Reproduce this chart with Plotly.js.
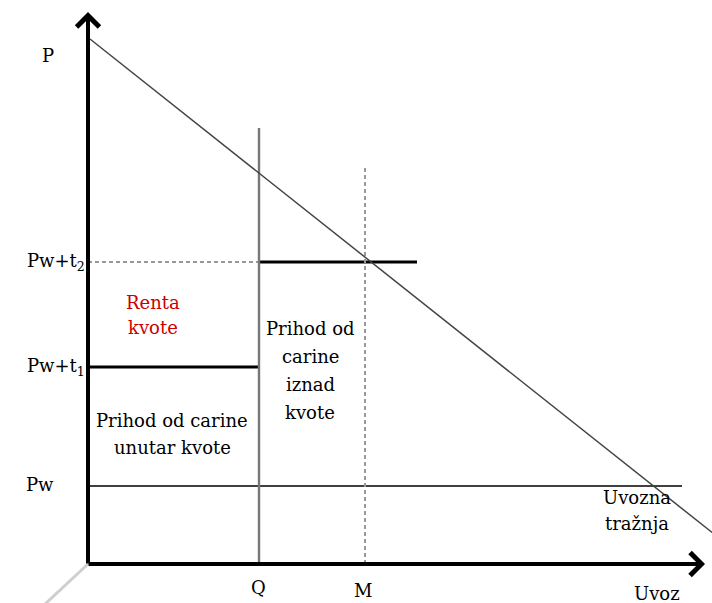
<!DOCTYPE html>
<html>
<head>
<meta charset="utf-8">
<script src="https://cdn.plot.ly/plotly-3.0.1.min.js"></script>
<style>html,body{margin:0;padding:0;background:#fff;}#chart{width:712px;height:603px;}</style>
</head>
<body>
<div id="chart"></div>
<script>
// Schematic values (import quantity / price units)
const Q = 171;          // quota quantity
const M = 277;          // imports at Pw+t2
const Pw = 78;          // world price
const Pw_t1 = 197;      // in-quota tariff price
const Pw_t2 = 302;      // over-quota tariff price
const demandX = [2, 626];
const demandY = [525, 30];
const pwLineEnd = 594;
const t2LineEnd = 329;
const qLineTop = 436;
const mLineTop = 396;
const axisXEnd = 617;
const axisYEnd = 552;

const priceLabels = ["P", "Pw+t<sub>2</sub>", "Pw+t<sub>1</sub>", "Pw"];
const priceLabelY = [509, Pw_t2, Pw_t1, Pw + 2];
const qtyLabels = ["Q", "M", "Uvoz"];
const qtyLabelX = [Q - 1, M - 2, 569];

const font = "DejaVu Serif, Liberation Serif, serif";
const fs = 18;

const traces = [
  // bottom-left gray diagonal
  {x: [0, -45], y: [0, -42], mode: "lines", line: {color: "#cfcfcf", width: 3}},
  // Pw line
  {x: [0, pwLineEnd], y: [Pw, Pw], mode: "lines", line: {color: "#000", width: 1.3}},
  // Pw+t2 dashed up to Q
  {x: [0, Q], y: [Pw_t2, Pw_t2], mode: "lines", line: {color: "#777", width: 1.3, dash: "4px,3px"}},
  // Pw+t2 thick from Q
  {x: [Q, t2LineEnd], y: [Pw_t2, Pw_t2], mode: "lines", line: {color: "#000", width: 3.2}},
  // Pw+t1 thick to Q
  {x: [0, Q], y: [Pw_t1, Pw_t1], mode: "lines", line: {color: "#000", width: 3.2}},
  // Q vertical
  {x: [Q, Q], y: [0, qLineTop], mode: "lines", line: {color: "#777", width: 2.4}},
  // M vertical dashed
  {x: [M, M], y: [0, mLineTop], mode: "lines", line: {color: "#999", width: 2, dash: "4px,3px"}},
  // demand
  {x: demandX, y: demandY, mode: "lines", line: {color: "#444", width: 1.5}},
];

const annotations = [];
// axes as arrows
annotations.push({x: 0, y: axisYEnd, ax: 0, ay: -1, axref: "x", ayref: "y", xref: "x", yref: "y",
  showarrow: true, arrowhead: 4, arrowsize: 1.1, arrowwidth: 4, arrowcolor: "#000", text: ""});
annotations.push({x: axisXEnd, y: 0, ax: -1, ay: 0, axref: "x", ayref: "y", xref: "x", yref: "y",
  showarrow: true, arrowhead: 4, arrowsize: 1.1, arrowwidth: 4, arrowcolor: "#000", text: ""});

const priceLabelX = [-40, -32, -32, -48];
priceLabels.forEach((t, i) => annotations.push({x: priceLabelX[i], y: priceLabelY[i], text: t, showarrow: false,
  font: {family: font, size: fs, color: "#000"}}));
const qtyLabelY = [-23, -26, -29];
qtyLabels.forEach((t, i) => annotations.push({x: qtyLabelX[i], y: qtyLabelY[i], text: t, showarrow: false,
  font: {family: font, size: fs, color: "#000"}}));

const areaTexts = [
  {lines: ["Renta", "kvote"], x: 65, y0: 262, step: 25, color: "#cc0000"},
  {lines: ["Prihod od carine", "unutar kvote"], x: 84, y0: 144, step: 27, color: "#000"},
  {lines: ["Prihod od", "carine", "iznad", "kvote"], x: 222, y0: 236, step: 28, color: "#000"},
  {lines: ["Uvozna", "tražnja"], x: 549, y0: 67, step: 26, color: "#000"},
];
areaTexts.forEach(a => a.lines.forEach((t, i) => annotations.push({
  x: a.x, y: a.y0 - i * a.step, text: t, showarrow: false,
  font: {family: font, size: fs, color: a.color}})));

const layout = {
  width: 712, height: 603,
  margin: {l: 0, r: 0, t: 0, b: 0},
  paper_bgcolor: "#fff", plot_bgcolor: "#fff",
  showlegend: false,
  xaxis: {range: [-88, 624], visible: false, fixedrange: true},
  yaxis: {range: [-39, 564], visible: false, fixedrange: true},
  annotations: annotations
};
traces.forEach(t => { t.hoverinfo = "skip"; });
Plotly.newPlot("chart", traces, layout, {staticPlot: true});
</script>
</body>
</html>
